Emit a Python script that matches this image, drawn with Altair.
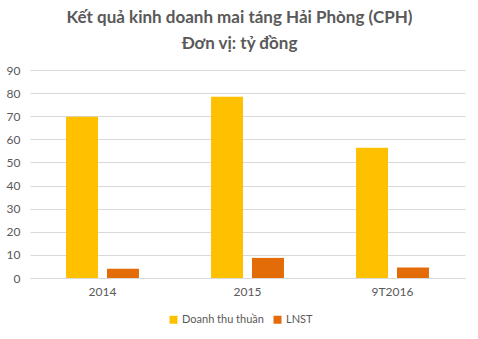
import altair as alt
import pandas as pd

categories = ["2014", "2015", "9T2016"]
series = ["Doanh thu thuần", "LNST"]
revenue = [69.8, 78.4, 56.4]
profit = [4.0, 8.7, 4.5]
colors = ["#FFC000", "#E36C09"]

rows = []
for i, c in enumerate(categories):
    rows.append({"cat": c, "series": series[0], "value": revenue[i], "order": 0})
    rows.append({"cat": c, "series": series[1], "value": profit[i], "order": 1})
df = pd.DataFrame(rows)

font = "Lato"
gray = "#595959"

chart = alt.Chart(df).mark_bar().encode(
    x=alt.X("cat:N", sort=categories, title=None,
            scale=alt.Scale(paddingInner=0.497, paddingOuter=0.2485),
            axis=alt.Axis(labelAngle=0, ticks=False, domainColor="#D9D9D9",
                          labelColor=gray, labelFont=font, labelFontSize=12,
                          labelPadding=8, grid=False)),
    xOffset=alt.XOffset("series:N", sort=series,
                        scale=alt.Scale(paddingInner=0.22, paddingOuter=0)),
    y=alt.Y("value:Q", title=None,
            scale=alt.Scale(domain=[0, 90], nice=False),
            axis=alt.Axis(values=list(range(0, 91, 10)), domain=False, ticks=False,
                          gridColor="#D9D9D9", labelColor=gray, labelFont=font,
                          labelFontSize=12, labelPadding=10)),
    color=alt.Color("series:N", sort=series,
                    scale=alt.Scale(domain=series, range=colors),
                    legend=alt.Legend(title=None, orient="none", direction="horizontal",
                                      legendX=138, legendY=244, symbolType="square",
                                      symbolSize=64, symbolStrokeWidth=0,
                                      labelFont=font, labelFontSize=11, labelColor=gray,
                                      columnPadding=8, labelOffset=3)),
).properties(
    width=435, height=208,
    title=alt.TitleParams(["Kết quả kinh doanh mai táng Hải Phòng (CPH)", "Đơn vị: tỷ đồng"],
                          anchor="middle", font=font, fontSize=17, fontWeight="bold",
                          color=gray, offset=11, lineHeight=26, dx=-8),
    autosize=alt.AutoSizeParams(type="none"),
    padding={"left": 30, "top": 70, "right": 13, "bottom": 61},
).configure_view(stroke=None)

chart.save("out.html", embed_options={"renderer": "svg", "actions": False})
